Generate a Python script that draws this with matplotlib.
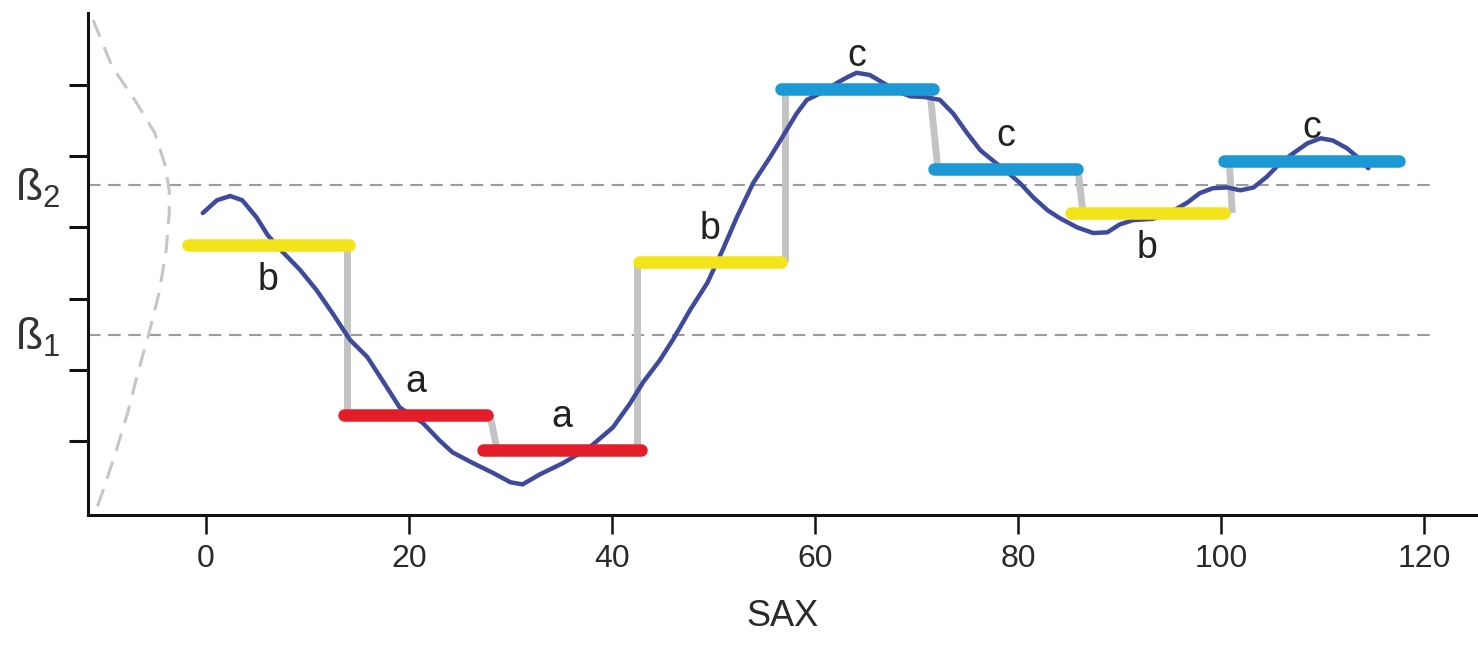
import numpy as np
import matplotlib.pyplot as plt
from matplotlib import transforms

plt.rcParams['font.family'] = ['Liberation Sans', 'DejaVu Sans']
plt.rcParams['lines.scale_dashes'] = False
plt.rcParams['mathtext.fontset'] = 'custom'
plt.rcParams['mathtext.rm'] = 'Liberation Sans'

# raw series
T = [-0.3, 1.1, 2.4, 3.6, 5.0, 6.1, 7.6, 9.3, 10.9, 12.5, 14.2, 15.9, 17.4, 19.1,
     21.4, 23.0, 24.3, 26.3, 28.3, 30.0, 31.2, 32.9, 35.2, 37.8, 40.1, 41.8, 43.1,
     44.7, 46.0, 47.7, 49.4, 50.9, 52.3, 53.9, 55.6, 56.8, 58.2, 59.2, 60.5, 62.2,
     63.2, 64.1, 65.4, 66.7, 68.1, 69.4, 70.8, 72.3, 73.6, 75.0, 76.3, 77.5, 78.9,
     80.2, 81.5, 82.9, 84.1, 85.8, 87.4, 88.8, 90.0, 91.3, 93.3, 95.0, 96.7, 97.9,
     99.2, 100.6, 101.9, 103.2, 104.5, 105.8, 107.1, 108.5, 109.8, 111.0, 112.4,
     113.4, 114.5]
V = [4.20, 4.38, 4.44, 4.38, 4.14, 3.89, 3.65, 3.40, 3.12, 2.79, 2.42, 2.18, 1.85, 1.47,
     1.25, 1.01, 0.84, 0.69, 0.55, 0.42, 0.39, 0.53, 0.69, 0.91, 1.19, 1.53, 1.83,
     2.13, 2.42, 2.84, 3.22, 3.68, 4.14, 4.62, 4.99, 5.27, 5.60, 5.79, 5.88, 6.03,
     6.11, 6.17, 6.14, 6.03, 5.91, 5.84, 5.83, 5.79, 5.60, 5.32, 5.08, 4.94, 4.78,
     4.62, 4.42, 4.24, 4.13, 4.00, 3.92, 3.93, 4.04, 4.10, 4.12, 4.21, 4.35, 4.48,
     4.55, 4.56, 4.52, 4.56, 4.71, 4.90, 5.04, 5.18, 5.25, 5.22, 5.11, 4.99, 4.83]

# breakpoints and PAA segments
BETA = [2.49, 4.59]
SEG_START = [-1.8, 13.6, 27.3, 42.7, 56.7, 71.7, 85.2, 100.3]
SEG_END = [14.1, 27.7, 42.9, 56.7, 71.6, 85.8, 100.3, 117.5]
SEG_LEVEL = [3.75, 1.36, 0.87, 3.51, 5.94, 4.82, 4.20, 4.93]
LABEL_BELOW = [True, False, False, False, False, False, True, False]
JUMP_FROM = [13.9, 28.0, 42.5, 57.0, 71.3, 85.9, 101.1]
JUMP_TO = [13.9, 28.7, 42.5, 57.0, 72.1, 86.4, 100.8]

# gaussian outline along the value axis
DENS_X = [-11.1, -9.2, -7.0, -5.0, -4.0, -3.6, -3.6, -3.9, -4.6, -5.6, -6.7, -7.7, -8.9, -10.0, -10.7]
DENS_Y = [6.91, 6.25, 5.79, 5.32, 4.87, 4.52, 4.20, 3.68, 3.08, 2.51, 1.95, 1.39, 0.83, 0.35, 0.07]

XTICKS = [0, 20, 40, 60, 80, 100, 120]
YTICKS = [1, 2, 3, 4, 5, 6]
SYMBOL_COLORS = {'a': '#e31e28', 'b': '#f3e41a', 'c': '#1a99d6'}
UNDERLINE = {'b': '#3a3a10', 'c': '#0b4e5e'}

symbols = np.array(list('abc'))[np.digitize(SEG_LEVEL, BETA)]

fig = plt.figure(figsize=(14.78, 6.55), dpi=100)
ax = fig.add_axes([88 / 1478, 140 / 655, 1390 / 1478, 502 / 655])
ax.set_xlim(-11.6, 125.3)
ax.set_ylim(-0.04, 7.01)

for side in ['top', 'right']:
    ax.spines[side].set_visible(False)
for side in ['left', 'bottom']:
    ax.spines[side].set_linewidth(2.2)
    ax.spines[side].set_color('#111111')

ax.set_xticks(XTICKS)
ax.set_xticklabels([str(t) for t in XTICKS])
ax.set_yticks(YTICKS)
ax.set_yticklabels([])
ax.tick_params(axis='x', direction='out', length=14, width=1.8, pad=7,
               labelsize=23, labelcolor='#2a2a2a', color='#111111')
ax.tick_params(axis='y', direction='out', length=14, width=2.2, color='#111111')
ax.set_xlabel('SAX', fontsize=26, color='#2a2a2a', labelpad=18)

# breakpoint lines
for b in BETA:
    ax.plot([-11.6, 120.8], [b, b], color='#9c9c9c', lw=1.5, dashes=(9, 5.5), zorder=1)
    ax.annotate(r'ß$_{%d}$' % (BETA.index(b) + 1), xy=(0, b),
                xycoords=('axes fraction', 'data'), xytext=(-20, -11),
                textcoords='offset points', ha='right', va='baseline',
                fontsize=32, color='#333333', annotation_clip=False)

ax.plot(DENS_X, DENS_Y, color='#c6c6c6', lw=2.2, dashes=(13, 8), zorder=1)

# jumps between segment levels
for i in range(len(JUMP_FROM)):
    ax.plot([JUMP_FROM[i], JUMP_TO[i]], [SEG_LEVEL[i], SEG_LEVEL[i + 1]],
            color='#c3c3c3', lw=5, solid_capstyle='butt', zorder=2)

ax.plot(T, V, color='#3e4b9c', lw=3.2, solid_capstyle='round',
        solid_joinstyle='round', zorder=3)

shadow = transforms.offset_copy(ax.transData, fig=fig, y=-5, units='dots')
for i, s in enumerate(symbols):
    x0, x1, lvl = SEG_START[i], SEG_END[i], SEG_LEVEL[i]
    if s in UNDERLINE:
        ax.plot([x0 + 0.6, x1 - 0.2], [lvl, lvl], color=UNDERLINE[s], lw=1.2,
                transform=shadow, zorder=4)
    ax.plot([x0, x1], [lvl, lvl], color=SYMBOL_COLORS[s], lw=9,
            solid_capstyle='round', zorder=5)
    dy = -25 if LABEL_BELOW[i] else 24
    ax.annotate(s, xy=((x0 + x1) / 2, lvl), xytext=(0, dy), textcoords='offset points',
                ha='center', va='center', fontsize=27, color='#222222', zorder=6)

fig.savefig('out.png', dpi=100, facecolor='white')
